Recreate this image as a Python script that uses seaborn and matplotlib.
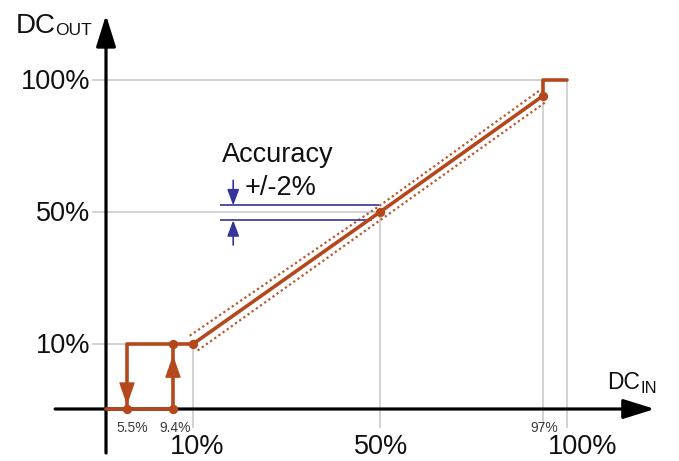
import numpy as np
import matplotlib
matplotlib.use("Agg")
import matplotlib.pyplot as plt
import seaborn as sns

# transfer curve (DC_in % -> DC_out %)
curve_in = [0, 9.4, 9.4, 10, 50, 97, 97, 100]
curve_out = [0, 0, 10, 10, 50, 94, 100, 100]
hyst_in = [5.5, 5.5, 9.4]
hyst_out = [0, 10, 10]
dot_in = [5.5, 9.4, 9.4, 10, 50, 97]
dot_out = [0, 0, 10, 10, 50, 94]
# accuracy band (dotted)
band_hi_in = [9.9, 50, 96.5]
band_hi_out = [12.5, 52.5, 96.5]
band_lo_in = [11, 50, 97.5]
band_lo_out = [9, 47.5, 92]
acc_hi, acc_lo = 52.5, 47.5

y_ticks = [10, 50, 100]
y_tick_labels = ["10%", "50%", "100%"]
x_ticks = [10, 50, 100]
x_tick_labels = ["10%", "50%", "100%"]
x_small = [5.5, 9.4, 97]
x_small_labels = ["5.5%", "9.4%", "97%"]

# the schematic axes are not linear: piecewise scale knots (data -> pixel)
x_knots = [-20, 0, 5.5, 9.4, 10, 50, 97, 100, 125]
x_pix = [0, 106, 127, 173, 193, 380, 543, 567, 679]
y_knots = [-15, 0, 10, 50, 100, 125]
y_pix = [0, 52, 117, 249, 381, 461]

RED = "#B4481C"
BLUE = "#34349a"
GRID = "#cfcfcf"

sns.set_theme(style="white")
plt.rcParams["font.family"] = ["Liberation Sans", "DejaVu Sans"]

W, H = 679, 461
fig = plt.figure(figsize=(W / 100, H / 100), dpi=100)
ax = fig.add_axes([0, 0, 1, 1])

ax.set_xscale("function", functions=(lambda v: np.interp(v, x_knots, x_pix),
                                     lambda p: np.interp(p, x_pix, x_knots)))
ax.set_yscale("function", functions=(lambda v: np.interp(v, y_knots, y_pix),
                                     lambda p: np.interp(p, y_pix, y_knots)))

# grey drop lines
ax.hlines(y_ticks, -2.6, [10, 50, 100], color=GRID, lw=1.3, zorder=1)
ax.vlines([10, 50, 97, 100], -5.5, [10, 50, 94, 100], color=GRID, lw=1.3, zorder=1)

# axes with arrows
arrow_kw = dict(arrowstyle="-|>,head_length=1.6,head_width=0.5", color="black",
                lw=2.3, shrinkA=0, shrinkB=0)
ax.annotate("", xy=(0, 120.3), xytext=(0, -12.7), arrowprops=arrow_kw, zorder=2)
ax.annotate("", xy=(119.6, 0), xytext=(-9.6, 0), arrowprops=arrow_kw, zorder=2)

# accuracy band
band_kw = dict(color="#b9582c", lw=1.6, ls=(0, (1, 1.3)), zorder=3)
ax.plot(band_hi_in, band_hi_out, **band_kw)
ax.plot(band_lo_in, band_lo_out, **band_kw)

# transfer curve
sns.lineplot(x=curve_in, y=curve_out, sort=False, estimator=None, color=RED,
             lw=2.6, ax=ax, zorder=4)
sns.lineplot(x=hyst_in, y=hyst_out, sort=False, estimator=None, color=RED,
             lw=2.6, ax=ax, zorder=4)
sns.scatterplot(x=dot_in, y=dot_out, color=RED, s=45, linewidth=0, ax=ax, zorder=5)

red_head = dict(arrowstyle="-|>,head_length=1.2,head_width=0.42", color=RED,
                lw=1, shrinkA=0, shrinkB=0)
ax.annotate("", xy=(5.5, 0.6), xytext=(5.5, 3.5), arrowprops=red_head, zorder=5)
ax.annotate("", xy=(9.4, 8.3), xytext=(9.4, 5.0), arrowprops=red_head, zorder=5)

# accuracy markers
ax.hlines(acc_hi, 15.8, 49.8, color=BLUE, lw=1.2, zorder=3)
ax.hlines(acc_lo, 15.8, 48.2, color=BLUE, lw=1.2, zorder=3)
blue_head = dict(arrowstyle="-|>,head_length=0.8,head_width=0.3", color=BLUE,
                 lw=1.2, shrinkA=0, shrinkB=0)
ax.annotate("", xy=(18.6, acc_hi), xytext=(18.6, 62), arrowprops=blue_head)
ax.annotate("", xy=(18.6, acc_lo), xytext=(18.6, 40), arrowprops=blue_head)

# labels
big = 19.5
for v, lab in zip(y_ticks, y_tick_labels):
    ax.annotate(lab, xy=(0, v), xytext=(-16, -9), textcoords="offset pixels",
                ha="right", va="baseline", fontsize=big, color="#111111")
for v, lab, dx in zip(x_ticks, x_tick_labels, [4, 1, 16]):
    ax.annotate(lab, xy=(v, 0), xytext=(dx, -45), textcoords="offset pixels",
                ha="center", va="baseline", fontsize=big, color="#111111")
for v, lab, dx in zip(x_small, x_small_labels, [5, 2, 1]):
    ax.annotate(lab, xy=(v, 0), xytext=(dx, -23), textcoords="offset pixels",
                ha="center", va="baseline", fontsize=10, color="#3a3a3a")


def fig_px(x, y):
    return x / W, 1 - y / H


fig.text(*fig_px(222, 162), "Accuracy", fontsize=big, va="baseline", color="#111111")
fig.text(*fig_px(245, 195), "+/-2%", fontsize=big, va="baseline", color="#111111")
fig.text(*fig_px(16, 33), "DC", fontsize=20, va="baseline", color="#111111")
fig.text(*fig_px(55, 35), "OUT", fontsize=12.5, va="baseline", color="#111111")
fig.text(*fig_px(607, 389), "DC", fontsize=16.5, va="baseline", color="#111111")
fig.text(*fig_px(640, 393), "IN", fontsize=12, va="baseline", color="#111111")

ax.set_xlim(-20, 125)
ax.set_ylim(-15, 125)
ax.set_axis_off()

fig.savefig("out.png", dpi=100)
